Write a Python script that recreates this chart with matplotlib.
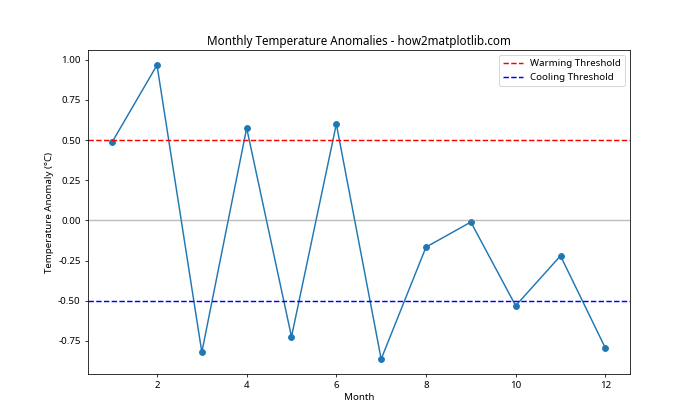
import matplotlib
matplotlib.use("Agg")
import matplotlib.pyplot as plt

plt.rcParams['font.family'] = ['Noto Sans', 'DejaVu Sans']
plt.rcParams['axes.unicode_minus'] = False

months = list(range(1, 13))
anomalies = [0.488, 0.967, -0.82, 0.575, -0.724, 0.600, -0.863, -0.166, -0.010, -0.531, -0.220, -0.794]
warming_threshold = 0.5
cooling_threshold = -0.5

fig, ax = plt.subplots(figsize=(10, 6), dpi=70)
ax.plot(months, anomalies, marker='o')
ax.axhline(warming_threshold, color='red', linestyle='--', label='Warming Threshold')
ax.axhline(cooling_threshold, color='blue', linestyle='--', label='Cooling Threshold')
ax.axhline(0, color='gray', alpha=0.5)
ax.set_title('Monthly Temperature Anomalies - how2matplotlib.com')
ax.set_xlabel('Month')
ax.set_ylabel('Temperature Anomaly (°C)')
ax.legend()
fig.savefig('out.png', dpi=70)
